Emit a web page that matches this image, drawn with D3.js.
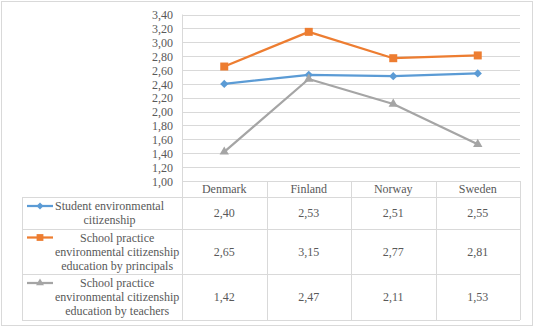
<!DOCTYPE html>
<html><head><meta charset="utf-8">
<script src="https://cdn.jsdelivr.net/npm/d3@7"></script>
<style>body{margin:0;background:#fff}svg{display:block}text{font-family:"Liberation Serif","Times New Roman",serif;fill:#595959}</style>
</head><body>
<script>
const categories = ["Denmark", "Finland", "Norway", "Sweden"];
const seriesNames = [
  ["Student environmental", "citizenship"],
  ["School practice", "environmental citizenship", "education by principals"],
  ["School practice", "environmental citizenship", "education by teachers"]
];
const studentValues = [2.40, 2.53, 2.51, 2.55];
const principalValues = [2.65, 3.15, 2.77, 2.81];
const teacherValues = [1.42, 2.47, 2.11, 1.53];
const yTicks = [1.0,1.2,1.4,1.6,1.8,2.0,2.2,2.4,2.6,2.8,3.0,3.2,3.4];

const series = [
  {name: seriesNames[0], values: studentValues, color: "#5B9BD5", marker: "diamond"},
  {name: seriesNames[1], values: principalValues, color: "#ED7D31", marker: "square"},
  {name: seriesNames[2], values: teacherValues, color: "#A5A5A5", marker: "triangle"}
];

const W = 534, H = 327;
const svg = d3.select("body").append("svg").attr("width", W).attr("height", H);
svg.append("rect").attr("x",1.5).attr("y",1.5).attr("width",531).attr("height",324)
  .attr("fill","#fff").attr("stroke","#d9d9d9");

const plotL = 182, plotR = 520, plotT = 14.5, plotB = 181;
const x = d3.scaleBand().domain(categories).range([plotL, plotR]).padding(0);
const y = d3.scaleLinear().domain([1, 3.4]).range([plotB, plotT]);
const fmt = v => d3.format(".2f")(v).replace(".", ",");

// gridlines
svg.append("g").selectAll("line").data(yTicks).join("line")
  .attr("x1", plotL).attr("x2", plotR)
  .attr("y1", d => Math.round(y(d)) + 0.5).attr("y2", d => Math.round(y(d)) + 0.5)
  .attr("stroke", "#d9d9d9");
// y axis via d3 axis (labels only)
const yAxis = svg.append("g").attr("transform", `translate(${plotL - 9},0)`)
  .call(d3.axisLeft(y).tickValues(yTicks).tickFormat(fmt).tickSize(0).tickPadding(0));
yAxis.select(".domain").remove();
yAxis.selectAll("text").attr("font-size", 12).style("font-family", '"Liberation Serif", serif').attr("fill", "#595959").attr("dy", "0.35em");

// table rows
const rowTops = [197, 229, 274, 320];
const tableL = 22;
const g = svg.append("g");
const vline = (xx, y1, y2) => g.append("line").attr("x1", xx).attr("x2", xx).attr("y1", y1).attr("y2", y2).attr("stroke", "#d9d9d9");
const hline = (x1, x2, yy) => g.append("line").attr("x1", x1).attr("x2", x2).attr("y1", yy).attr("y2", yy).attr("stroke", "#d9d9d9");
vline(plotL + 0.5, plotT, rowTops[3]);
categories.forEach(c => vline(Math.round(x(c) + x.bandwidth()) + 0.5, Math.round(y(1)), rowTops[3]));
vline(tableL + 0.5, rowTops[0], rowTops[3]);
rowTops.forEach(t => hline(tableL, plotR, t + 0.5));

// header labels
svg.append("g").selectAll("text").data(categories).join("text")
  .attr("x", d => x(d) + x.bandwidth() / 2).attr("y", 189).attr("dy", "0.35em")
  .attr("text-anchor", "middle").attr("font-size", 12).text(d => d);

// lines and markers
const markerPath = (type) => {
  if (type === "diamond") return d3.symbol(d3.symbolSquare, 34)();
  if (type === "square") return d3.symbol(d3.symbolSquare, 64)();
  return d3.symbol(d3.symbolTriangle, 38)();
};
const markerRot = type => type === "diamond" ? 45 : 0;
const line = d3.line().x((d, i) => x(categories[i]) + x.bandwidth() / 2).y(d => y(d));

series.forEach((s, si) => {
  svg.append("path").attr("d", line(s.values)).attr("fill", "none")
    .attr("stroke", s.color).attr("stroke-width", 2.25).attr("stroke-linejoin", "round");
  svg.append("g").selectAll("path").data(s.values).join("path")
    .attr("d", markerPath(s.marker)).attr("fill", s.color)
    .attr("transform", (d, i) => `translate(${x(categories[i]) + x.bandwidth() / 2},${y(d)}) rotate(${markerRot(s.marker)})`);

  // table row
  const top = rowTops[si], bot = rowTops[si + 1];
  const nLines = s.name.length;
  const lh = 14;
  const firstY = (top + bot) / 2 - (nLines - 1) * lh / 2;
  const lg = svg.append("g");
  lg.append("line").attr("x1", 27).attr("x2", 53).attr("y1", firstY).attr("y2", firstY)
    .attr("stroke", s.color).attr("stroke-width", 2.25);
  lg.append("path").attr("d", markerPath(s.marker)).attr("fill", s.color)
    .attr("transform", `translate(40,${firstY}) rotate(${markerRot(s.marker)}) scale(0.85)`);
  const texts = lg.selectAll("text.l").data(s.name).join("text").attr("class", "l")
    .attr("y", (d, i) => firstY + i * lh).attr("dy", "0.35em").attr("font-size", 12)
    .attr("text-anchor", "middle").text(d => d);
  let maxW = 0;
  texts.each(function () { maxW = Math.max(maxW, this.getComputedTextLength()); });
  texts.attr("x", 55 + maxW / 2);
  svg.append("g").selectAll("text").data(s.values).join("text")
    .attr("x", (d, i) => x(categories[i]) + x.bandwidth() / 2).attr("y", (top + bot) / 2)
    .attr("dy", "0.35em").attr("text-anchor", "middle").attr("font-size", 12).text(d => fmt(d));
});
</script>
</body></html>
